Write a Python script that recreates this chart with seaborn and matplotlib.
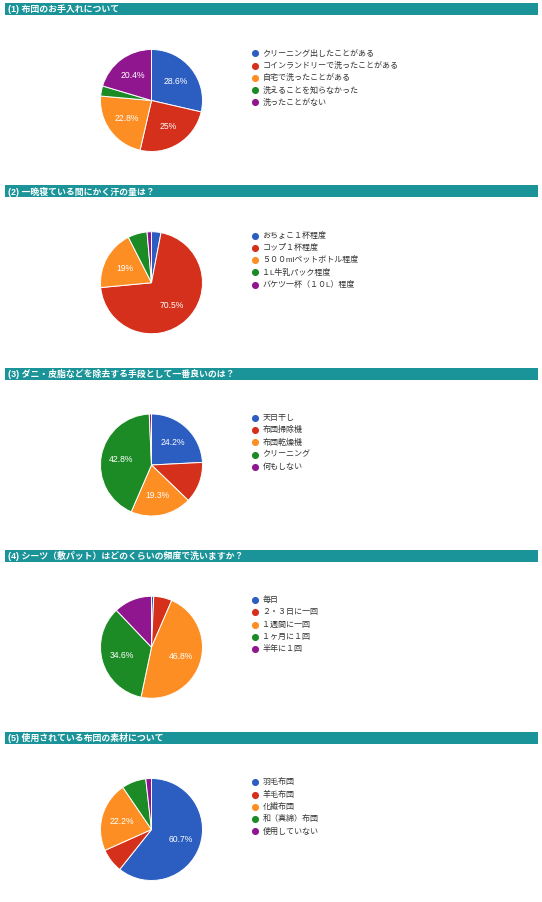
import matplotlib
matplotlib.use('Agg')
import matplotlib.pyplot as plt
from matplotlib.patches import Rectangle
import seaborn as sns

sns.set_theme(style='white')
plt.rcParams['font.family'] = ['Liberation Sans', 'Noto Sans CJK JP', 'DejaVu Sans']

# chart data
titles = [
    '(1) 布団のお手入れについて',
    '(2) 一晩寝ている間にかく汗の量は？',
    '(3) ダニ・皮脂などを除去する手段として一番良いのは？',
    '(4) シーツ（敷パット）はどのくらいの頻度で洗いますか？',
    '(5) 使用されている布団の素材について',
]
labels_1 = ['クリーニング出したことがある', 'コインランドリーで洗ったことがある', '自宅で洗ったことがある',
            '洗えることを知らなかった', '洗ったことがない']
values_1 = [28.6, 25.0, 22.8, 3.2, 20.4]
labels_2 = ['おちょこ１杯程度', 'コップ１杯程度', '５００mlペットボトル程度', '１L牛乳パック程度', 'バケツ一杯（１０L）程度']
values_2 = [3.0, 70.5, 19.0, 6.1, 1.4]
labels_3 = ['天日干し', '布団掃除機', '布団乾燥機', 'クリーニング', '何もしない']
values_3 = [24.2, 13.0, 19.3, 42.8, 0.7]
labels_4 = ['毎日', '２・３日に一回', '１週間に一回', '１ヶ月に１回', '半年に１回']
values_4 = [0.7, 5.8, 46.8, 34.6, 12.1]
labels_5 = ['羽毛布団', '羊毛布団', '化繊布団', '和（真綿）布団', '使用していない']
values_5 = [60.7, 7.6, 22.2, 7.7, 1.8]

all_labels = [labels_1, labels_2, labels_3, labels_4, labels_5]
all_values = [values_1, values_2, values_3, values_4, values_5]

colors = ['#2c5dc1', '#d4301b', '#fd8e23', '#1c8b26', '#8f168f']
header_color = '#1b9499'

W, H = 542, 902
fig = plt.figure(figsize=(W / 100, H / 100), dpi=100)
fig.patch.set_facecolor('white')

# overlay axes in pixel coordinates for headers and legends
ax0 = fig.add_axes([0, 0, 1, 1])
ax0.set_xlim(0, W)
ax0.set_ylim(H, 0)
ax0.axis('off')


def pct_label(p):
    if p < 15:
        return ''
    return f'{p:.1f}'.rstrip('0').rstrip('.') + '%'


pitch = 182.25
R = 51.0      # pie radius in px
box = 130.0   # pie axes size in px
cx = 151.5

for i in range(5):
    top = 3 + i * pitch

    # header bar
    ax0.add_patch(Rectangle((5, top), 533, 12, color=header_color, lw=0))
    ax0.text(8, top + 6.3, titles[i], color='white', fontsize=6.4, fontweight='bold',
             va='center', ha='left')

    # legend
    for j, lab in enumerate(all_labels[i]):
        y = top + 50.3 + j * 12.25
        ax0.scatter([255], [y], s=26, color=colors[j], lw=0)
        ax0.text(262.5, y + 0.3, lab, fontsize=5.8, color='#333333', va='center', ha='left')

    # pie
    cy = top + 97.5
    ax = fig.add_axes([(cx - box / 2) / W, 1 - (cy + box / 2) / H, box / W, box / H])
    ax.pie(all_values[i], colors=colors, startangle=90, counterclock=False,
           autopct=pct_label, pctdistance=0.6,
           wedgeprops=dict(edgecolor='white', linewidth=0.7),
           textprops=dict(color='white', fontsize=6.2, family=['Liberation Sans', 'DejaVu Sans']))
    lim = box / 2 / R
    ax.set_xlim(-lim, lim)
    ax.set_ylim(-lim, lim)
    ax.set_aspect('equal')
    ax.axis('off')

fig.savefig('out.png', dpi=100)
